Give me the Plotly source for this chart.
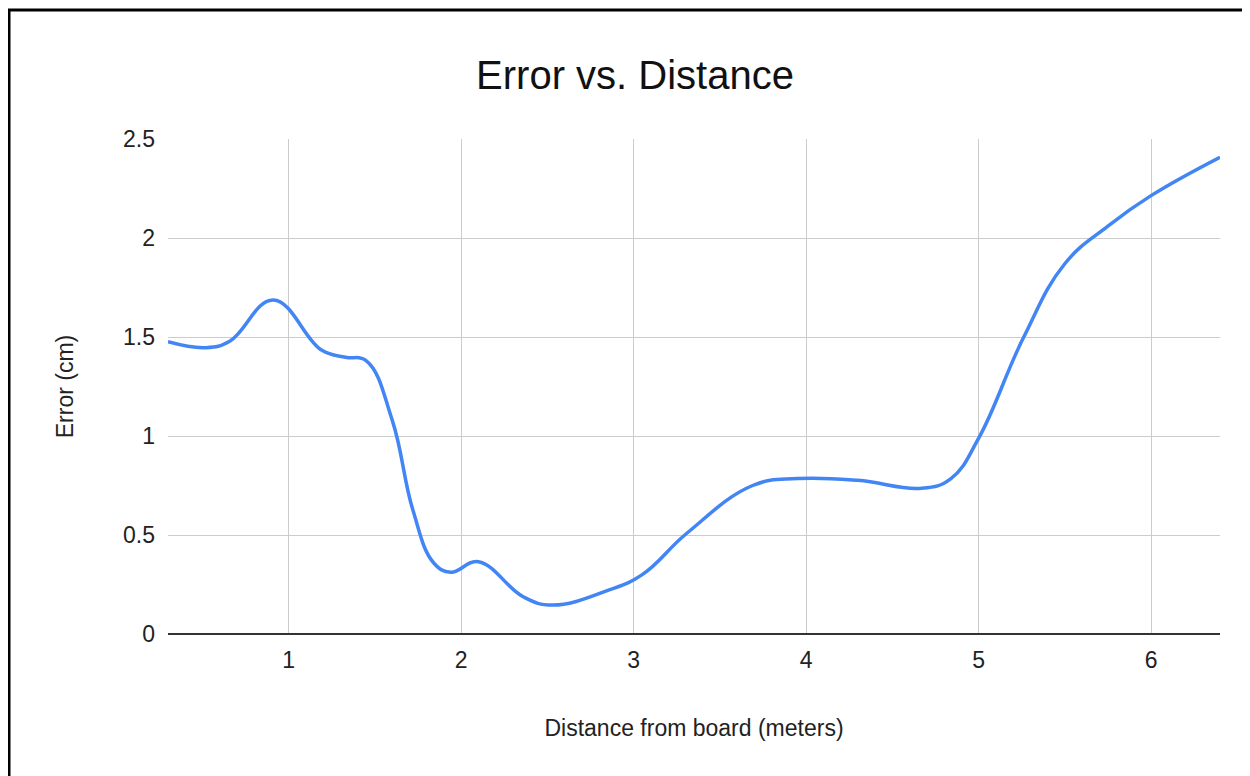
import plotly.graph_objects as go

# Data
distance_m = [0.3, 0.52, 0.66, 0.91, 1.19, 1.33, 1.45, 1.6, 1.72, 1.84, 1.94, 2.10,
              2.36, 2.53, 2.85, 3.05, 3.31, 3.69, 3.95, 4.3, 4.67, 4.84,
              5.0, 5.26, 5.5, 5.75, 6.0, 6.4]
error_cm = [1.476, 1.446, 1.48, 1.687, 1.434, 1.398, 1.38, 1.08, 0.626, 0.36, 0.312, 0.365,
            0.188, 0.146, 0.22, 0.30, 0.51, 0.75, 0.785, 0.776, 0.736, 0.785,
            0.988, 1.496, 1.87, 2.06, 2.214, 2.408]

x_ticks = [1, 2, 3, 4, 5, 6]
y_ticks = [0, 0.5, 1, 1.5, 2, 2.5]
y_tick_text = ["0", "0.5", "1", "1.5", "2", "2.5"]

FONT = "Liberation Sans, Arial, sans-serif"

fig = go.Figure()
fig.add_trace(go.Scatter(
    x=distance_m, y=error_cm, mode="lines",
    line=dict(color="#4285F4", width=3.5, shape="spline", smoothing=1.2),
    showlegend=False, name="Error",
))

fig.update_layout(
    width=1250, height=776,
    margin=dict(l=160, r=38, t=131, b=150),
    paper_bgcolor="white", plot_bgcolor="white",
    font=dict(family=FONT, color="#222222"),
    title=dict(text="Error vs. Distance", x=627 / 1250, xref="container", xanchor="center",
               y=1 - 67 / 776, yref="container", yanchor="middle",
               font=dict(size=40, color="#111111", family=FONT)),
    xaxis=dict(range=[0.3, 6.4], tickvals=x_ticks, showgrid=True, gridcolor="#cccccc",
               gridwidth=1, zeroline=False, showline=False, ticks="",
               ticklabelstandoff=10,
               tickfont=dict(size=23, color="#222222"),
               title=dict(text="Distance from board (meters)", standoff=47,
                          font=dict(size=23, color="#222222"))),
    yaxis=dict(range=[0, 2.5], tickvals=y_ticks, ticktext=y_tick_text, showgrid=True,
               gridcolor="#cccccc", gridwidth=1, zeroline=True, zerolinecolor="#333333",
               zerolinewidth=2, showline=False, ticks="", ticklabelstandoff=12,
               tickfont=dict(size=23, color="#222222"),
               title=dict(text="Error (cm)", standoff=42,
                          font=dict(size=23, color="#222222"))),
    shapes=[dict(type="rect", xref="paper", yref="paper",
                 x0=(9 - 168) / 1052, x1=(1300 - 168) / 1052,
                 y0=(634 - 820) / 495, y1=(634 - 10) / 495,
                 line=dict(color="black", width=3), fillcolor="rgba(0,0,0,0)", layer="above")],
)

fig.write_html("out.html")
